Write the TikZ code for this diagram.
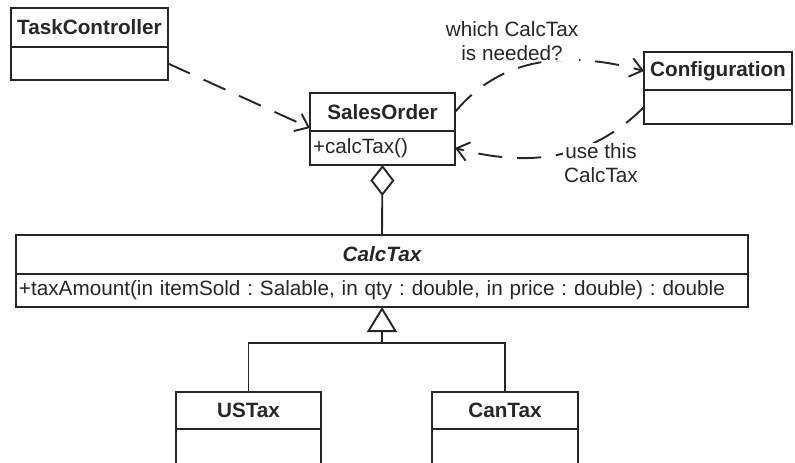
\documentclass[tikz,border=0pt]{standalone}
\usepackage{fontspec}
\setmainfont{Liberation Sans}
\usepackage{xcolor}
\usepackage{tikz}
\usetikzlibrary{arrows.meta,positioning}
\definecolor{ink}{HTML}{262626}
\newcommand{\umlfs}{\fontsize{20.7}{23.5}\selectfont\frenchspacing}
\tikzset{
  hd/.style={draw=ink,line width=1.9pt,outer sep=0pt,inner sep=2pt,font=\umlfs\bfseries,text=ink},
  bd/.style={draw=ink,line width=1.9pt,outer sep=0pt,inner sep=3pt,font=\umlfs,text=ink,align=left},
  ln/.style={line width=1.9pt,ink},
  dep/.style={-{Straight Barb[length=12pt,width=19pt]},line width=1.9pt,ink,dash pattern=on 24pt off 15pt},
  lbl/.style={fill=white,align=center,inner sep=1pt,text=ink,font=\umlfs}
}

\begin{document}
\begin{tikzpicture}[x=1pt,y=1pt]
\useasboundingbox (0,0) rectangle (795,-463);
\clip (0,0) rectangle (795,-463);
% classes
\node[hd,minimum width=157pt,minimum height=39pt] (taskH) at (89.5,-27.5) {TaskController};
\node[bd,minimum width=157pt,minimum height=33pt,below=0pt of taskH] (taskB) {};
\node[hd,minimum width=145pt,minimum height=38pt] (salesH) at (382.5,-112) {SalesOrder};
\node[bd,text width=139pt,minimum height=34pt,below=0pt of salesH] (salesB) {+calcTax()};
\node[hd,minimum width=148pt,minimum height=38pt] (confH) at (718,-71) {Configuration};
\node[bd,minimum width=148pt,minimum height=34pt,below=0pt of confH] (confB) {};
\node[hd,minimum width=732pt,minimum height=39pt] (calcH) at (382,-254.5) {\itshape CalcTax};
\node[bd,text width=726pt,minimum height=33pt,below=0pt of calcH] (calcB) {+taxAmount(in itemSold : Salable, in qty : double, in price : double) : double};
\node[hd,minimum width=145pt,minimum height=37pt] (usH) at (248.5,-410.5) {USTax};
\node[bd,minimum width=145pt,minimum height=40pt,below=0pt of usH] (usB) {};
\node[hd,minimum width=146pt,minimum height=37pt] (canH) at (505,-410.5) {CanTax};
\node[bd,minimum width=146pt,minimum height=40pt,below=0pt of canH] (canB) {};
% dependencies
\draw[dep] (taskB.east) -- ([yshift=3pt]salesH.south west);
\draw[dep] (salesH.east) to[out=50,in=165] (confH.west);
\node[lbl] (askL) at (512,-41) {which CalcTax\\is needed?};
\draw[dep] (confB.west) to[out=225,in=-15] (salesB.east);
\node[lbl] (useL) at (601,-163) {use this\\CalcTax};
% aggregation and generalization
\draw[ln,{Diamond[open,length=31pt,width=24pt]}-] (salesB.south) -- (calcH.north);
\coordinate (genJ) at (382,-343);
\draw[ln,-{Triangle[open,length=25pt,width=30pt]}] (genJ) -- (calcB.south);
\draw[ln] (usH.north) |- (genJ) -| (canH.north);
\end{tikzpicture}
\end{document}
